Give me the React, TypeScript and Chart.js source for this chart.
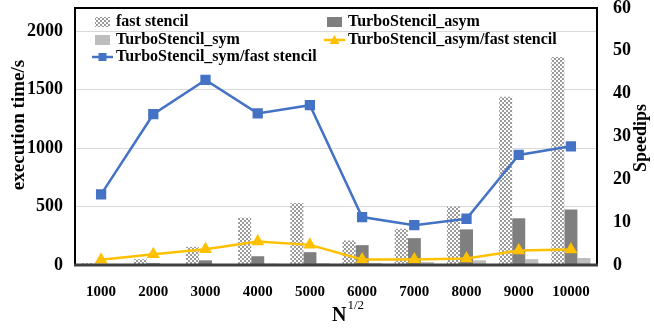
import React, { useEffect, useRef } from "react";
import { Chart, registerables } from "chart.js";

Chart.register(...registerables);

const categories = ["1000", "2000", "3000", "4000", "5000", "6000", "7000", "8000", "9000", "10000"];
const fastStencil = [15, 50, 155, 405, 530, 210, 310, 500, 1440, 1780];
const turboAsym = [5, 15, 40, 75, 110, 170, 230, 305, 400, 475];
const turboSym = [2, 5, 8, 12, 15, 18, 25, 40, 50, 60];
const speedupSym = [16.5, 35.2, 43.2, 35.4, 37.3, 11.2, 9.3, 10.8, 25.7, 27.7];
const speedupAsym = [1.2, 2.5, 3.7, 5.5, 4.7, 1.3, 1.3, 1.5, 3.4, 3.6];
const leftTicks = [0, 500, 1000, 1500, 2000];

const FONT = "'Liberation Serif', 'Times New Roman', serif";
const BLUE = "#4472C4";
const YELLOW = "#FFC000";
const DARK = "#7f7f7f";
const LIGHT = "#bdbdbd";

function makePattern(): CanvasPattern | string {
  const c = document.createElement("canvas");
  c.width = 4;
  c.height = 4;
  const g = c.getContext("2d");
  if (!g) return "#bbbbbb";
  g.fillStyle = "#ffffff";
  g.fillRect(0, 0, 4, 4);
  g.fillStyle = "#9a9a9a";
  g.fillRect(0, 0, 2, 2);
  g.fillRect(2, 2, 2, 2);
  const p = g.createPattern(c, "repeat");
  return p || "#bbbbbb";
}

export default function App() {
  const ref = useRef<HTMLCanvasElement | null>(null);

  useEffect(() => {
    if (!ref.current) return;
    const pattern = makePattern();

    const decor = {
      id: "decor",
      afterDraw(chart: any) {
        const ctx = chart.ctx;
        const a = chart.chartArea;
        ctx.save();
        // frame
        ctx.strokeStyle = "#000";
        ctx.lineWidth = 2;
        ctx.beginPath();
        ctx.moveTo(a.left, a.bottom);
        ctx.lineTo(a.left, a.top);
        ctx.lineTo(a.right, a.top);
        ctx.lineTo(a.right, a.bottom);
        ctx.stroke();
        ctx.strokeStyle = "#404040";
        ctx.lineWidth = 3;
        ctx.beginPath();
        ctx.moveTo(a.left - 1, a.bottom);
        ctx.lineTo(a.right + 1, a.bottom);
        ctx.stroke();

        // legend
        ctx.font = "bold 16px " + FONT;
        ctx.textBaseline = "middle";
        ctx.textAlign = "left";
        ctx.fillStyle = "#000";
        const rows = [22, 40, 57];
        const col1 = 92;
        const col2 = 324;
        const box = (x: number, y: number, fill: any) => {
          ctx.fillStyle = fill;
          ctx.fillRect(x + 3, y - 5, 15, 10);
        };
        const lineIcon = (x: number, y: number, color: string, shape: string) => {
          ctx.strokeStyle = color;
          ctx.lineWidth = 2.5;
          ctx.beginPath();
          ctx.moveTo(x, y);
          ctx.lineTo(x + 21, y);
          ctx.stroke();
          ctx.fillStyle = color;
          const cx = x + 10.5;
          if (shape === "rect") {
            ctx.fillRect(cx - 4, y - 4, 8, 8);
          } else {
            ctx.beginPath();
            ctx.moveTo(cx, y - 5);
            ctx.lineTo(cx + 5, y + 4);
            ctx.lineTo(cx - 5, y + 4);
            ctx.closePath();
            ctx.fill();
          }
        };
        box(col1, rows[0], pattern);
        box(col2, rows[0], DARK);
        box(col1, rows[1], LIGHT);
        lineIcon(col2, rows[1], YELLOW, "tri");
        lineIcon(col1, rows[2], BLUE, "rect");
        ctx.fillStyle = "#000";
        ctx.fillText("fast stencil", col1 + 24, rows[0]);
        ctx.fillText("TurboStencil_asym", col2 + 24, rows[0]);
        ctx.fillText("TurboStencil_sym", col1 + 24, rows[1]);
        ctx.fillText("TurboStencil_asym/fast stencil", col2 + 24, rows[1]);
        ctx.fillText("TurboStencil_sym/fast stencil", col1 + 24, rows[2]);

        // axis titles
        ctx.fillStyle = "#000";
        ctx.font = "bold 19px " + FONT;
        ctx.textAlign = "center";
        ctx.textBaseline = "alphabetic";
        ctx.save();
        ctx.translate(24, 125);
        ctx.rotate(-Math.PI / 2);
        ctx.fillText("execution time/s", 0, 0);
        ctx.restore();
        ctx.font = "bold 18px " + FONT;
        ctx.save();
        ctx.translate(646, 138);
        ctx.rotate(-Math.PI / 2);
        ctx.fillText("Speedips", 0, 0);
        ctx.restore();

        // N^{1/2}
        ctx.textAlign = "left";
        ctx.textBaseline = "middle";
        ctx.font = "bold 20px " + FONT;
        ctx.fillText("N", 332, 316);
        const nw = ctx.measureText("N").width;
        ctx.font = "13px " + FONT;
        ctx.fillText("1/2", 332 + nw + 1, 306);
        ctx.restore();
      },
    };

    const chart = new Chart(ref.current, {
      type: "bar",
      data: {
        labels: categories,
        datasets: [
          {
            type: "bar",
            label: "fast stencil",
            data: fastStencil,
            backgroundColor: pattern as any,
            yAxisID: "y",
            order: 2,
          },
          {
            type: "bar",
            label: "TurboStencil_asym",
            data: turboAsym,
            backgroundColor: DARK,
            yAxisID: "y",
            order: 2,
          },
          {
            type: "bar",
            label: "TurboStencil_sym",
            data: turboSym,
            backgroundColor: LIGHT,
            yAxisID: "y",
            order: 2,
          },
          {
            type: "line",
            label: "TurboStencil_asym/fast stencil",
            data: speedupAsym,
            borderColor: YELLOW,
            backgroundColor: YELLOW,
            borderWidth: 2.5,
            pointStyle: "triangle",
            pointRadius: 5,
            yAxisID: "y1",
            order: 1,
          },
          {
            type: "line",
            label: "TurboStencil_sym/fast stencil",
            data: speedupSym,
            borderColor: BLUE,
            backgroundColor: BLUE,
            borderWidth: 2.5,
            pointStyle: "rect",
            pointRadius: 5.5,
            yAxisID: "y1",
            order: 0,
          },
        ] as any,
      },
      options: {
        animation: false,
        responsive: true,
        maintainAspectRatio: false,
        layout: { padding: { top: 8, left: 0, right: 0, bottom: 0 } },
        datasets: {
          bar: { categoryPercentage: 0.75, barPercentage: 1.0 },
        } as any,
        plugins: {
          legend: { display: false },
          tooltip: { enabled: false },
        },
        scales: {
          x: {
            grid: { display: false },
            border: { display: false },
            ticks: {
              color: "#000",
              padding: 10,
              font: { family: FONT, size: 15, weight: "bold" },
              maxRotation: 0,
            },
            afterFit(scale: any) {
              scale.height = 64;
              scale.paddingLeft = 0;
              scale.paddingRight = 0;
            },
          },
          y: {
            position: "left",
            min: 0,
            max: 2200,
            grid: { color: "#d9d9d9", drawTicks: false, lineWidth: 1 },
            border: { display: false },
            afterBuildTicks(scale: any) {
              scale.ticks = leftTicks.map((v) => ({ value: v }));
            },
            ticks: {
              color: "#000",
              padding: 12,
              font: { family: FONT, size: 18, weight: "bold" },
              callback: (v: any) => String(v),
            },
            afterFit(scale: any) {
              scale.width = 75;
              scale.paddingTop = 0;
              scale.paddingBottom = 0;
            },
          },
          y1: {
            position: "right",
            min: 0,
            max: 60,
            grid: { display: false },
            border: { display: false },
            ticks: {
              stepSize: 10,
              color: "#000",
              padding: 8,
              font: { family: FONT, size: 18, weight: "bold" },
              callback: (v: any) => String(v),
            },
            afterFit(scale: any) {
              scale.width = 57;
              scale.paddingTop = 0;
              scale.paddingBottom = 0;
            },
          },
        },
      } as any,
      plugins: [decor],
    });
    return () => chart.destroy();
  }, []);

  return (
    <div style={{ position: "fixed", left: 0, top: 0, width: 654, height: 329, background: "#fff" }}>
      <canvas ref={ref} />
    </div>
  );
}
